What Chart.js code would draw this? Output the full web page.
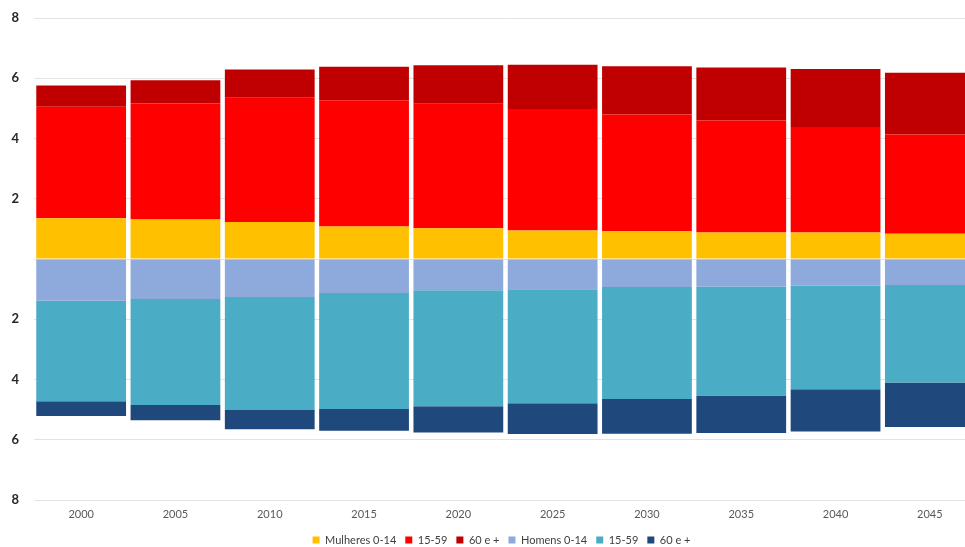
<!DOCTYPE html>
<html>
<head>
<meta charset="utf-8">
<script src="https://cdn.jsdelivr.net/npm/chart.js@4.4.1/dist/chart.umd.min.js"></script>
<style>
html,body{margin:0;padding:0;background:#fff;overflow:hidden;}
#wrap{position:relative;width:980px;height:547px;}
</style>
</head>
<body>
<div id="wrap"><canvas id="c" width="980" height="547"></canvas></div>
<script>
const categories = ['2000','2005','2010','2015','2020','2025','2030','2035','2040','2045'];
// Women (positive)
const mulheres0_14 = [1.35,1.31,1.23,1.08,1.02,0.95,0.92,0.88,0.88,0.84];
const mulheres15_59 = [3.70,3.85,4.12,4.19,4.13,4.03,3.88,3.72,3.50,3.29];
const mulheres60 = [0.71,0.77,0.94,1.11,1.28,1.47,1.60,1.76,1.93,2.05];
// Men (shown below zero)
const homens0_14 = [1.39,1.33,1.26,1.13,1.04,1.00,0.93,0.91,0.89,0.86];
const homens15_59 = [3.33,3.52,3.75,3.85,3.85,3.79,3.72,3.62,3.43,3.24];
const homens60 = [0.49,0.50,0.64,0.72,0.87,1.02,1.15,1.25,1.41,1.48];
const yTicks = [-8,-6,-4,-2,0,2,4,6,8];

const neg = a => a.map(v => -v);
const common = {stack:'s', barPercentage:0.952, categoryPercentage:1.0, borderWidth:0};

const shiftLegend = {
  id:'shiftLegend',
  afterLayout(chart){
    const l = chart.legend;
    if (l) { l.left += 13; l.right += 13; }
  }
};

new Chart(document.getElementById('c'), {
  type:'bar',
  data:{
    labels:categories,
    datasets:[
      Object.assign({label:'Mulheres 0-14', data:mulheres0_14, backgroundColor:'#FFC000'}, common),
      Object.assign({label:'15-59', data:mulheres15_59, backgroundColor:'#FF0000'}, common),
      Object.assign({label:'60 e +', data:mulheres60, backgroundColor:'#C00000'}, common),
      Object.assign({label:'Homens 0-14', data:neg(homens0_14), backgroundColor:'#8EA9DB'}, common),
      Object.assign({label:'15-59', data:neg(homens15_59), backgroundColor:'#4BACC6'}, common),
      Object.assign({label:'60 e +', data:neg(homens60), backgroundColor:'#1F497D'}, common)
    ]
  },
  plugins:[shiftLegend],
  options:{
    responsive:false,
    animation:false,
    layout:{padding:{top:18,right:3,left:0,bottom:-8.5}},
    plugins:{
      legend:{
        position:'bottom',
        labels:{boxWidth:7,boxHeight:7,padding:9,color:'#404040',font:{family:'Lato',size:11}}
      },
      tooltip:{enabled:false}
    },
    scales:{
      x:{
        stacked:true,
        grid:{display:false,drawTicks:false},
        border:{display:false},
        afterFit: s => { s.height = 25.5; },
        ticks:{color:'#595959',font:{family:'Lato',size:11},padding:8,maxRotation:0}
      },
      y:{
        stacked:true,
        min:-8,max:8,
        afterBuildTicks: s => { s.ticks = yTicks.map(v => ({value:v})); },
        afterFit: s => { s.width = 34; s.paddingTop = 0; s.paddingBottom = 0; },
        grid:{color:'#e3e3e3',lineWidth:1,drawTicks:false},
        border:{display:false},
        ticks:{
          padding:15,
          color:'#262626',
          font:{family:'Lato',size:13,weight:'bold'},
          callback: v => v === 0 ? '' : String(Math.abs(v))
        }
      }
    }
  }
});
</script>
</body>
</html>
